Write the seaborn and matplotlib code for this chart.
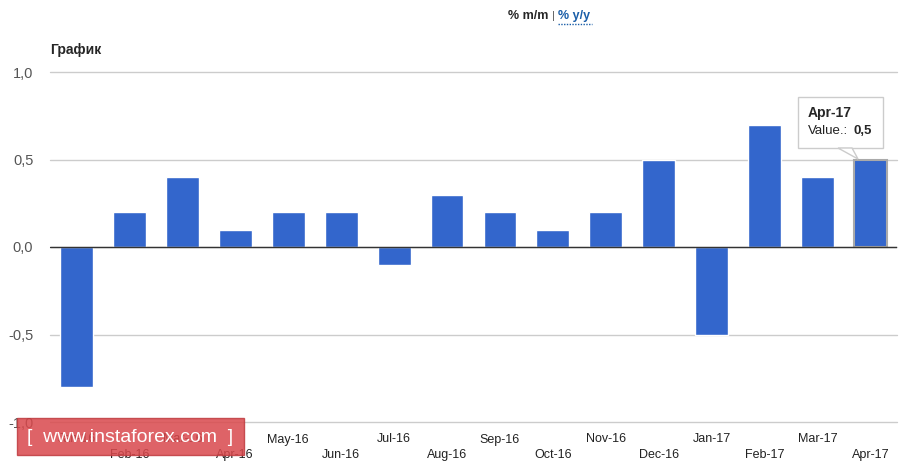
import numpy as np
import pandas as pd
import matplotlib.pyplot as plt
import seaborn as sns
from matplotlib.patches import FancyBboxPatch, Polygon
from matplotlib.lines import Line2D

sns.set_theme(style="white")
plt.rcParams['font.family'] = ['Arial', 'Liberation Sans', 'DejaVu Sans']

months = ["Jan-16", "Feb-16", "Mar-16", "Apr-16", "May-16", "Jun-16", "Jul-16", "Aug-16",
          "Sep-16", "Oct-16", "Nov-16", "Dec-16", "Jan-17", "Feb-17", "Mar-17", "Apr-17"]
values = [-0.8, 0.2, 0.4, 0.1, 0.2, 0.2, -0.1, 0.3, 0.2, 0.1, 0.2, 0.5, -0.5, 0.7, 0.4, 0.5]
yticks = [-1.0, -0.5, 0.0, 0.5, 1.0]
ytick_labels = ["-1,0", "-0,5", "0,0", "0,5", "1,0"]

df = pd.DataFrame({"month": months, "value": values})

W, H = 917, 468
fig = plt.figure(figsize=(9.17, 4.68), dpi=100)
ax = fig.add_axes([50 / W, 1 - 422 / H, 847 / W, 350 / H])

sns.barplot(data=df, x="month", y="value", color="#3366cc", saturation=1, width=0.62, ax=ax, zorder=3)
# hovered bar gets a grey outline
ax.patches[-1].set_edgecolor("#aaaaaa")
ax.patches[-1].set_linewidth(1.5)

ax.set_xlim(-0.5, len(months) - 0.5)
ax.set_ylim(-1.0, 1.0)
ax.set_yticks(yticks)
ax.set_yticklabels(ytick_labels, color="#555555", fontsize=10.5)
for y in yticks:
    ax.axhline(y, color="#cccccc", lw=1, zorder=1, clip_on=False)
ax.axhline(0, color="#333333", lw=1, zorder=4)
for s in ax.spines.values():
    s.set_visible(False)
ax.tick_params(axis="y", length=0, pad=12)
ax.set_xticks([])
ax.set_xlabel("")
ax.set_ylabel("")

# staggered month labels
for i, m in enumerate(months):
    ypos = -1.1 if i % 2 == 0 else -1.19
    ax.text(i, ypos, m, ha="center", va="center", fontsize=9, color="#222222", clip_on=False)

fig.text(50 / W, 1 - 50 / H, "График", fontsize=10, fontweight="bold", va="center")
fig.text(548 / W, 1 - 16 / H, "% m/m", fontsize=9, fontweight="bold", ha="right", va="center")
fig.text(552 / W, 1 - 16 / H, "|", fontsize=8, color="#555555", ha="left", va="center")
fig.text(558 / W, 1 - 16 / H, "% y/y", fontsize=9, fontweight="bold", color="#1a5ea8",
         ha="left", va="center")
fig.lines.append(Line2D([558 / W, 592 / W], [1 - 24 / H, 1 - 24 / H], transform=fig.transFigure,
                        color="#1a5ea8", lw=1, ls=(0, (1, 1))))

# tooltip
box = FancyBboxPatch((798 / W, 1 - 148 / H), 85 / W, 51 / H, boxstyle="square,pad=0",
                     transform=fig.transFigure, facecolor="white", edgecolor="#cccccc", lw=1, zorder=10)
fig.patches.append(box)
tail = Polygon([(838 / W, 1 - 148 / H), (858 / W, 1 - 159 / H), (852 / W, 1 - 148 / H)], closed=True,
               transform=fig.transFigure, facecolor="white", edgecolor="#cccccc", lw=1, zorder=10)
fig.patches.append(tail)
fig.text(808 / W, 1 - 113 / H, "Apr-17", fontsize=10, fontweight="bold", va="center", zorder=11)
fig.text(808 / W, 1 - 131 / H, "Value.:", fontsize=9.5, color="#222222", va="center", zorder=11)
fig.text(853 / W, 1 - 131 / H, "0,5", fontsize=9.5, fontweight="bold", va="center", zorder=11)

# watermark
wm = FancyBboxPatch((17 / W, 1 - 455 / H), 227 / W, 37 / H, boxstyle="square,pad=0",
                    transform=fig.transFigure, facecolor="#d9484c", edgecolor="#c03a3e",
                    alpha=0.85, lw=1, zorder=20)
fig.patches.append(wm)
fig.text(130 / W, 1 - 437 / H, "[  www.instaforex.com  ]", fontsize=14, color="white",
         ha="center", va="center", zorder=21)

fig.savefig("out.png", dpi=100)
